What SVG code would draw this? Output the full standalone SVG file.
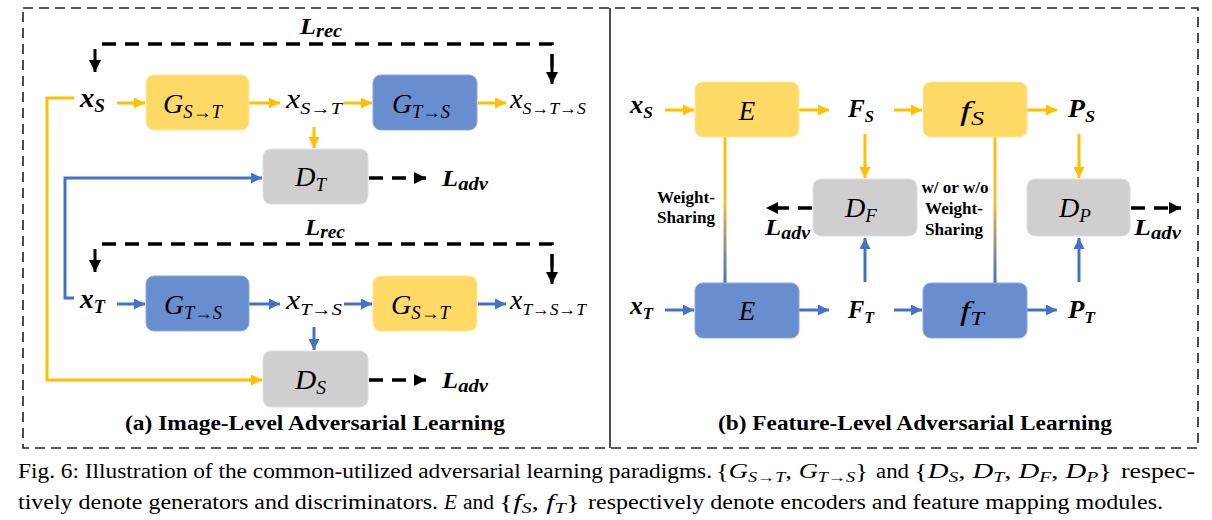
<svg xmlns="http://www.w3.org/2000/svg" width="1212" height="520" viewBox="0 0 1212 520">
<style>
.m{font-family:"Liberation Serif","DejaVu Serif",serif;font-style:italic;fill:#000}
.b{font-weight:bold}
.lbl{font-family:"Liberation Serif","DejaVu Serif",serif;font-weight:bold;fill:#000}
.cap{font-family:"Liberation Serif","DejaVu Serif",serif;fill:#000;font-size:20.5px}
.i{font-style:italic}
.yl{fill:#FFD966;stroke:#FFE89A;stroke-width:1}
.bl{fill:#698ED0;stroke:#8AA8DD;stroke-width:1}
.gr{fill:#D0CECE;stroke:#E2E0E0;stroke-width:1}
.ya{fill:none;stroke:#FFC000;stroke-width:3;marker-end:url(#ah-y)}
.ba{fill:none;stroke:#4472C4;stroke-width:3;marker-end:url(#ah-b)}
.ka{fill:none;stroke:#000;stroke-width:3.5;stroke-dasharray:14 9;marker-end:url(#ah-k)}
.kd{fill:none;stroke:#000;stroke-width:3;marker-end:url(#ah-k)}
</style>
<defs>
<marker id="ah-y" markerUnits="userSpaceOnUse" markerWidth="11" markerHeight="11" refX="11" refY="5.5" orient="auto"><path d="M0,0 L11,5.5 L0,11 z" fill="#FFC000"/></marker>
<marker id="ah-b" markerUnits="userSpaceOnUse" markerWidth="11" markerHeight="11" refX="11" refY="5.5" orient="auto"><path d="M0,0 L11,5.5 L0,11 z" fill="#4472C4"/></marker>
<marker id="ah-k" markerUnits="userSpaceOnUse" markerWidth="12" markerHeight="12" refX="12" refY="6" orient="auto"><path d="M0,0 L12,6 L0,12 z" fill="#000"/></marker>
<linearGradient id="ws" x1="0" y1="0" x2="0" y2="1"><stop offset="0" stop-color="#FFC000"/><stop offset="0.45" stop-color="#F2BE3A"/><stop offset="1" stop-color="#4472C4"/></linearGradient>
</defs>
<rect width="1212" height="520" fill="#fff"/>
<g id="frame">
<rect x="23" y="8" width="1175" height="440" fill="none" stroke="#222" stroke-width="1.6" stroke-dasharray="10 6"/>
<line x1="610" y1="8" x2="610" y2="448" stroke="#222" stroke-width="1.6"/>
</g>
<g id="connectors">
<line class="ya" x1="117" y1="103" x2="145" y2="103"/>
<line class="ya" x1="249" y1="103" x2="280" y2="103"/>
<line class="ya" x1="344" y1="103" x2="372" y2="103"/>
<line class="ya" x1="478" y1="103" x2="506" y2="103"/>
<line class="ya" x1="314" y1="127" x2="314" y2="148"/>
<line class="ba" x1="117" y1="304" x2="145" y2="304"/>
<line class="ba" x1="249" y1="304" x2="280" y2="304"/>
<line class="ba" x1="344" y1="304" x2="372" y2="304"/>
<line class="ba" x1="478" y1="304" x2="506" y2="304"/>
<line class="ba" x1="314" y1="327" x2="314" y2="350"/>
<path class="ya" d="M74,98 H47 V380 H262"/>
<path class="ba" d="M74,298 H65 V178 H262"/>
<path d="M102,44 H552 V70" fill="none" stroke="#000" stroke-width="3.5" stroke-dasharray="14 9"/>
<line class="kd" x1="95" y1="49" x2="95" y2="72"/>
<line class="kd" x1="552" y1="68" x2="552" y2="84"/>
<path d="M102,244 H552 V270" fill="none" stroke="#000" stroke-width="3.5" stroke-dasharray="14 9"/>
<line class="kd" x1="95" y1="249" x2="95" y2="272"/>
<line class="kd" x1="552" y1="268" x2="552" y2="284"/>
<line class="ka" x1="369" y1="178" x2="426" y2="178"/>
<line class="ka" x1="369" y1="380" x2="426" y2="380"/>
<line class="ya" x1="665" y1="110" x2="694" y2="110"/>
<line class="ya" x1="799" y1="110" x2="829" y2="110"/>
<line class="ya" x1="894" y1="110" x2="922" y2="110"/>
<line class="ya" x1="1027" y1="110" x2="1057" y2="110"/>
<line class="ya" x1="865" y1="134" x2="865" y2="178"/>
<line class="ya" x1="1079" y1="134" x2="1079" y2="178"/>
<line class="ba" x1="665" y1="310" x2="694" y2="310"/>
<line class="ba" x1="799" y1="310" x2="829" y2="310"/>
<line class="ba" x1="894" y1="310" x2="922" y2="310"/>
<line class="ba" x1="1027" y1="310" x2="1057" y2="310"/>
<line class="ba" x1="865" y1="282" x2="865" y2="238"/>
<line class="ba" x1="1079" y1="282" x2="1079" y2="238"/>
<rect x="723.5" y="137" width="3" height="146" fill="url(#ws)"/>
<rect x="993.5" y="137" width="3" height="146" fill="url(#ws)"/>
<line class="ka" x1="812" y1="208" x2="766" y2="208"/>
<line class="ka" x1="1131" y1="208" x2="1181" y2="208"/>
</g>
<g id="G_ST_1"><rect class="yl" x="146" y="75" width="103" height="55" rx="8"/>
<text class="m" x="163" y="113" font-size="27" textLength="59" lengthAdjust="spacingAndGlyphs">G<tspan font-size="18" dy="5">S→T</tspan></text></g>
<g id="G_TS_1"><rect class="bl" x="373" y="75" width="104" height="55" rx="8"/>
<text class="m" x="392" y="113" font-size="27" textLength="58" lengthAdjust="spacingAndGlyphs">G<tspan font-size="18" dy="5">T→S</tspan></text></g>
<g id="D_T"><rect class="gr" x="263" y="149" width="105" height="55" rx="8"/>
<text class="m" x="295" y="186" font-size="27" textLength="31" lengthAdjust="spacingAndGlyphs">D<tspan font-size="18" dy="5">T</tspan></text></g>
<g id="G_TS_2"><rect class="bl" x="146" y="276" width="103" height="55" rx="8"/>
<text class="m" x="164" y="314" font-size="27" textLength="58" lengthAdjust="spacingAndGlyphs">G<tspan font-size="18" dy="5">T→S</tspan></text></g>
<g id="G_ST_2"><rect class="yl" x="373" y="276" width="104" height="55" rx="8"/>
<text class="m" x="391" y="314" font-size="27" textLength="59" lengthAdjust="spacingAndGlyphs">G<tspan font-size="18" dy="5">S→T</tspan></text></g>
<g id="D_S"><rect class="gr" x="263" y="351" width="105" height="56" rx="8"/>
<text class="m" x="295" y="389" font-size="27" textLength="31" lengthAdjust="spacingAndGlyphs">D<tspan font-size="18" dy="5">S</tspan></text></g>
<g id="left-labels">
<text class="m b" x="80" y="107" font-size="27" textLength="25" lengthAdjust="spacingAndGlyphs">x<tspan font-size="18" dy="5">S</tspan></text>
<text class="m" x="286" y="108" font-size="27" textLength="56" lengthAdjust="spacingAndGlyphs">x<tspan font-size="17" dy="6">S→T</tspan></text>
<text class="m" x="510" y="108" font-size="27" textLength="76" lengthAdjust="spacingAndGlyphs">x<tspan font-size="17" dy="6">S→T→S</tspan></text>
<text class="m b" x="80" y="308" font-size="27" textLength="25" lengthAdjust="spacingAndGlyphs">x<tspan font-size="18" dy="5">T</tspan></text>
<text class="m" x="286" y="309" font-size="27" textLength="56" lengthAdjust="spacingAndGlyphs">x<tspan font-size="17" dy="6">T→S</tspan></text>
<text class="m" x="510" y="309" font-size="27" textLength="76" lengthAdjust="spacingAndGlyphs">x<tspan font-size="17" dy="6">T→S→T</tspan></text>
<text class="m b" x="300" y="34" font-size="23" textLength="42" lengthAdjust="spacingAndGlyphs">L<tspan font-size="18" dy="3">rec</tspan></text>
<text class="m b" x="305" y="235" font-size="23" textLength="40" lengthAdjust="spacingAndGlyphs">L<tspan font-size="18" dy="3">rec</tspan></text>
<text class="m b" x="442" y="186" font-size="23" textLength="46" lengthAdjust="spacingAndGlyphs">L<tspan font-size="18" dy="4">adv</tspan></text>
<text class="m b" x="442" y="388" font-size="23" textLength="46" lengthAdjust="spacingAndGlyphs">L<tspan font-size="18" dy="4">adv</tspan></text>
<text class="lbl" x="315" y="430" text-anchor="middle" font-size="22" textLength="380" lengthAdjust="spacingAndGlyphs">(a) Image-Level Adversarial Learning</text>
</g>
<g id="E_S"><rect class="yl" x="695" y="82" width="104" height="55" rx="8"/>
<text class="m" x="747" y="120" text-anchor="middle" font-size="27">E</text></g>
<g id="f_S"><rect class="yl" x="923" y="82" width="104" height="55" rx="8"/>
<text class="m" x="960" y="120" font-size="27" textLength="24" lengthAdjust="spacingAndGlyphs">f<tspan font-size="18" dy="5">S</tspan></text></g>
<g id="D_F"><rect class="gr" x="813" y="179" width="104" height="57" rx="8"/>
<text class="m" x="845" y="217" font-size="28" textLength="32" lengthAdjust="spacingAndGlyphs">D<tspan font-size="19" dy="5">F</tspan></text></g>
<g id="D_P"><rect class="gr" x="1027" y="179" width="103" height="57" rx="8"/>
<text class="m" x="1059" y="217" font-size="28" textLength="32" lengthAdjust="spacingAndGlyphs">D<tspan font-size="19" dy="5">P</tspan></text></g>
<g id="E_T"><rect class="bl" x="695" y="283" width="104" height="55" rx="8"/>
<text class="m" x="747" y="320" text-anchor="middle" font-size="27">E</text></g>
<g id="f_T"><rect class="bl" x="923" y="283" width="104" height="55" rx="8"/>
<text class="m" x="960" y="320" font-size="27" textLength="24" lengthAdjust="spacingAndGlyphs">f<tspan font-size="18" dy="5">T</tspan></text></g>
<g id="right-labels">
<text class="m b" x="630" y="113" font-size="26" textLength="23" lengthAdjust="spacingAndGlyphs">x<tspan font-size="17" dy="5">S</tspan></text>
<text class="m b" x="848" y="117" font-size="26" textLength="26" lengthAdjust="spacingAndGlyphs">F<tspan font-size="17" dy="5">S</tspan></text>
<text class="m b" x="1068" y="117" font-size="26" textLength="27" lengthAdjust="spacingAndGlyphs">P<tspan font-size="17" dy="5">S</tspan></text>
<text class="m b" x="630" y="314" font-size="26" textLength="23" lengthAdjust="spacingAndGlyphs">x<tspan font-size="17" dy="5">T</tspan></text>
<text class="m b" x="848" y="318" font-size="26" textLength="26" lengthAdjust="spacingAndGlyphs">F<tspan font-size="17" dy="5">T</tspan></text>
<text class="m b" x="1068" y="318" font-size="26" textLength="27" lengthAdjust="spacingAndGlyphs">P<tspan font-size="17" dy="5">T</tspan></text>
<text class="m b" x="765" y="235" font-size="24" textLength="45" lengthAdjust="spacingAndGlyphs">L<tspan font-size="18" dy="4">adv</tspan></text>
<text class="m b" x="1134" y="235" font-size="24" textLength="47" lengthAdjust="spacingAndGlyphs">L<tspan font-size="18" dy="4">adv</tspan></text>
<text class="lbl" x="686" y="203" text-anchor="middle" font-size="16" textLength="58" lengthAdjust="spacingAndGlyphs">Weight-</text>
<text class="lbl" x="686" y="223" text-anchor="middle" font-size="16" textLength="58" lengthAdjust="spacingAndGlyphs">Sharing</text>
<text class="lbl" x="955" y="193" text-anchor="middle" font-size="16" textLength="67" lengthAdjust="spacingAndGlyphs">w/ or w/o</text>
<text class="lbl" x="954" y="214" text-anchor="middle" font-size="16" textLength="58" lengthAdjust="spacingAndGlyphs">Weight-</text>
<text class="lbl" x="954" y="235" text-anchor="middle" font-size="16" textLength="58" lengthAdjust="spacingAndGlyphs">Sharing</text>
<text class="lbl" x="915" y="430" text-anchor="middle" font-size="22" textLength="394" lengthAdjust="spacingAndGlyphs">(b) Feature-Level Adversarial Learning</text>
</g>
<g id="caption">
<text class="cap" x="18" y="478" textLength="694" lengthAdjust="spacingAndGlyphs">Fig. 6: Illustration of the common-utilized adversarial learning paradigms.</text>
<text class="cap" x="716" y="478" textLength="152" lengthAdjust="spacingAndGlyphs">{<tspan class="i">G</tspan><tspan class="i" font-size="14" dy="4">S→T</tspan><tspan dy="-4">, </tspan><tspan class="i">G</tspan><tspan class="i" font-size="14" dy="4">T→S</tspan><tspan dy="-4">}</tspan></text>
<text class="cap" x="876" y="478" textLength="33" lengthAdjust="spacingAndGlyphs">and</text>
<text class="cap" x="914" y="478" textLength="198" lengthAdjust="spacingAndGlyphs">{<tspan class="i">D</tspan><tspan class="i" font-size="14" dy="4">S</tspan><tspan dy="-4">, </tspan><tspan class="i">D</tspan><tspan class="i" font-size="14" dy="4">T</tspan><tspan dy="-4">, </tspan><tspan class="i">D</tspan><tspan class="i" font-size="14" dy="4">F</tspan><tspan dy="-4">, </tspan><tspan class="i">D</tspan><tspan class="i" font-size="14" dy="4">P</tspan><tspan dy="-4">}</tspan></text>
<text class="cap" x="1121" y="478" textLength="74" lengthAdjust="spacingAndGlyphs">respec-</text>
<text class="cap" x="18" y="509" textLength="420" lengthAdjust="spacingAndGlyphs">tively denote generators and discriminators.</text>
<text class="cap i" x="444" y="509" textLength="13" lengthAdjust="spacingAndGlyphs">E</text>
<text class="cap" x="463" y="509" textLength="31" lengthAdjust="spacingAndGlyphs">and</text>
<text class="cap" x="499" y="509" textLength="81" lengthAdjust="spacingAndGlyphs">{<tspan class="i">f</tspan><tspan class="i" font-size="14" dy="4">S</tspan><tspan dy="-4">, </tspan><tspan class="i">f</tspan><tspan class="i" font-size="14" dy="4">T</tspan><tspan dy="-4">}</tspan></text>
<text class="cap" x="588" y="509" textLength="575" lengthAdjust="spacingAndGlyphs">respectively denote encoders and feature mapping modules.</text>
</g>
</svg>
